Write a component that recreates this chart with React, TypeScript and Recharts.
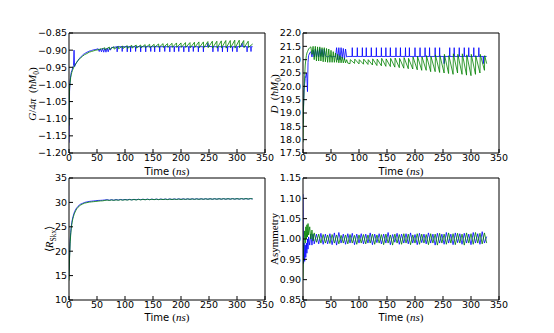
import React from 'react';
import { LineChart, Line, XAxis, YAxis } from 'recharts';

// ---------- Panel 1: G/4pi ----------
const gBlueTime = [
  0, 1, 2, 3, 4, 5, 6, 7, 8, 9, 10,
  12, 14, 16, 18, 20, 22, 24, 26, 28, 30, 32, 34, 36, 38, 40, 42, 44, 46,
  48, 50, 52, 54, 56, 58, 60, 62, 64, 66, 68, 70, 72, 74, 76, 78, 80,
  85.6, 86, 86.4, 94.6, 95, 95.4, 103.6, 104, 104.4, 109.6, 110, 110.4,
  118.6, 119, 119.4, 127.6, 128, 128.4, 136.6, 137, 137.4, 145.6, 146, 146.4,
  152.6, 153, 153.4, 161.6, 162, 162.4, 170.6, 171, 171.4, 179.6, 180, 180.4,
  187.6, 188, 188.4, 195.6, 196, 196.4, 204.6, 205, 205.4, 213.6, 214, 214.4,
  221.6, 222, 222.4, 230.6, 231, 231.4, 239.6, 240, 240.4, 247.6, 248, 248.4,
  256.6, 257, 257.4, 265.6, 266, 266.4, 273.6, 274, 274.4, 282.6, 283, 283.4,
  291.6, 292, 292.4, 299.6, 300, 300.4, 308.6, 309, 309.4, 317.6, 318, 318.4,
  324.6, 325, 325.4, 328,
];
const gBlue = [
  -1.17, -1.02, -0.99, -0.975, -0.965, -0.96, -0.955, -0.95, -0.945, -0.9, -0.948,
  -0.94, -0.935, -0.93, -0.925, -0.922, -0.918, -0.915, -0.912, -0.91, -0.908, -0.906, -0.905, -0.903, -0.902, -0.901, -0.9, -0.899, -0.898,
  -0.898, -0.897, -0.896, -0.904, -0.896, -0.905, -0.895, -0.906, -0.895, -0.906, -0.894, -0.905, -0.893, -0.9, -0.892, -0.892, -0.892,
  -0.89, -0.905, -0.89, -0.89, -0.904, -0.89, -0.89, -0.905, -0.89, -0.89, -0.905, -0.89,
  -0.89, -0.904, -0.89, -0.89, -0.905, -0.89, -0.89, -0.905, -0.89, -0.89, -0.904, -0.89,
  -0.89, -0.905, -0.89, -0.89, -0.905, -0.89, -0.89, -0.904, -0.89, -0.89, -0.905, -0.89,
  -0.89, -0.905, -0.89, -0.89, -0.904, -0.89, -0.89, -0.905, -0.89, -0.89, -0.905, -0.89,
  -0.89, -0.904, -0.89, -0.89, -0.905, -0.89, -0.89, -0.905, -0.89, -0.889, -0.88, -0.889,
  -0.89, -0.905, -0.89, -0.89, -0.904, -0.89, -0.89, -0.905, -0.89, -0.89, -0.905, -0.89,
  -0.89, -0.904, -0.89, -0.89, -0.905, -0.89, -0.889, -0.88, -0.889, -0.89, -0.905, -0.89,
  -0.89, -0.904, -0.89, -0.89,
];
const gGreenTime = [
  0, 1, 2, 3, 4, 5, 6, 7, 8, 9, 10, 12, 14, 16, 18, 20, 24, 28, 32, 36, 40, 44, 48, 52, 56, 60,
  64, 64.5, 72, 72.5, 80, 80.5, 88, 88.5, 96, 96.5, 104, 104.5, 112, 112.5, 120, 120.5,
  128, 128.5, 136, 136.5, 144, 144.5, 152, 152.5, 160, 160.5, 168, 168.5, 176, 176.5,
  184, 184.5, 192, 192.5, 200, 200.5, 208, 208.5, 216, 216.5, 224, 224.5, 232, 232.5,
  240, 240.5, 248, 248.5, 256, 256.5, 264, 264.5, 272, 272.5, 280, 280.5, 288, 288.5,
  296, 296.5, 304, 304.5, 312, 312.5, 320, 320.5, 328,
];
const gGreen = [
  -1.12, -1.01, -0.995, -0.98, -0.972, -0.965, -0.96, -0.956, -0.952, -0.948, -0.945, -0.94, -0.935, -0.93, -0.927, -0.924,
  -0.918, -0.913, -0.91, -0.906, -0.904, -0.902, -0.9, -0.899, -0.897, -0.896,
  -0.893, -0.899, -0.891, -0.898, -0.89, -0.897, -0.889, -0.896, -0.888, -0.895, -0.887, -0.895, -0.886, -0.894, -0.885, -0.894,
  -0.885, -0.893, -0.884, -0.893, -0.883, -0.893, -0.883, -0.892, -0.882, -0.892, -0.881, -0.892, -0.881, -0.892,
  -0.88, -0.892, -0.879, -0.892, -0.879, -0.892, -0.878, -0.892, -0.878, -0.893, -0.877, -0.892, -0.876, -0.893,
  -0.876, -0.893, -0.875, -0.893, -0.874, -0.893, -0.874, -0.894, -0.873, -0.893, -0.872, -0.894, -0.872, -0.893,
  -0.871, -0.894, -0.871, -0.893, -0.872, -0.893, -0.874, -0.892, -0.882,
];

// ---------- Panel 2: D ----------
const dBlueTime = [
  0, 1, 2, 3, 4, 5, 6, 7, 8, 9, 10,
  12, 14, 16, 18, 20, 22, 24, 26, 28, 30, 32, 34, 36, 38, 40, 42, 44, 46,
  48, 50, 52, 54, 56, 58, 60, 62, 64, 66, 68, 70, 72, 74, 76, 78, 80,
  87.6, 88, 88.4, 96.6, 97, 97.4, 105.6, 106, 106.4, 112.6, 113, 113.4,
  121.6, 122, 122.4, 130.6, 131, 131.4, 139.6, 140, 140.4, 147.6, 148, 148.4,
  155.6, 156, 156.4, 165.6, 166, 166.4, 173.6, 174, 174.4, 182.6, 183, 183.4,
  189.6, 190, 190.4, 199.6, 200, 200.4, 208.6, 209, 209.4, 217.6, 218, 218.4,
  225.6, 226, 226.4, 235.6, 236, 236.4, 243.6, 244, 244.4, 251.6, 252, 252.4,
  261.6, 262, 262.4, 269.6, 270, 270.4, 278.6, 279, 279.4, 287.6, 288, 288.4,
  295.6, 296, 296.4, 304.6, 305, 305.4, 313.6, 314, 314.4, 321.6, 322, 322.4,
  328,
];
const dBlue = [
  18.6, 19.3, 19.9, 20.1, 20.3, 20.4, 20.5, 20.3, 19.8, 20.9, 21.15,
  21.25, 21.3, 21.1, 21.35, 21.1, 21.4, 21.1, 21.38, 21.1, 21.42, 21.12, 21.38, 21.1, 21.4, 21.15, 21.12, 21.1, 21.12,
  21.15, 21.12, 21.1, 21.12, 21.12, 21.1, 21.45, 21.0, 21.45, 21.0, 21.45, 21.05, 21.42, 21.0, 21.4, 21.1, 21.12,
  21.12, 21.45, 21.12, 21.12, 21.45, 21.12, 21.12, 21.45, 21.12, 21.12, 21.45, 21.12,
  21.12, 21.45, 21.12, 21.12, 21.45, 21.12, 21.12, 21.45, 21.12, 21.12, 21.45, 21.12,
  21.12, 21.45, 21.12, 21.12, 21.45, 21.12, 21.12, 21.45, 21.12, 21.12, 21.45, 21.12,
  21.12, 21.45, 21.12, 21.12, 21.45, 21.12, 21.12, 21.45, 21.12, 21.12, 21.45, 21.12,
  21.12, 21.45, 21.12, 21.12, 21.45, 21.12, 21.12, 21.45, 21.12, 21.12, 20.85, 21.12,
  21.12, 21.45, 21.12, 21.12, 21.45, 21.12, 21.12, 21.45, 21.12, 21.12, 21.45, 21.12,
  21.12, 21.45, 21.12, 21.12, 21.45, 21.12, 21.12, 21.45, 21.12, 21.12, 20.85, 21.12,
  21.12,
];
const dGreenTime = [
  0, 1, 2, 3, 4, 5, 6, 7, 8, 9, 10,
  12, 14, 16, 18, 20, 22, 24, 26, 28, 30, 32, 34, 36, 38, 40, 42, 44, 46,
  48, 50, 52, 54, 56, 58, 60, 62, 64, 66, 68, 70, 72, 74, 76, 78, 80,
  84, 84.5, 92, 92.5, 100, 100.5, 108, 108.5, 116, 116.5, 124, 124.5,
  132, 132.5, 140, 140.5, 148, 148.5, 156, 156.5, 164, 164.5, 172, 172.5,
  180, 180.5, 188, 188.5, 196, 196.5, 204, 204.5, 212, 212.5, 220, 220.5,
  228, 228.5, 236, 236.5, 244, 244.5, 252, 252.5, 260, 260.5, 268, 268.5,
  276, 276.5, 284, 284.5, 292, 292.5, 300, 300.5, 308, 308.5, 316, 316.5,
  324, 324.5, 328,
];
const dGreen = [
  17.9, 19.2, 19.9, 20.4, 20.8, 21.0, 21.15, 21.25, 21.3, 21.35, 21.4,
  21.45, 21.48, 21.2, 21.5, 21.0, 21.5, 20.95, 21.48, 20.95, 21.48, 20.95, 21.45, 20.92, 21.45, 20.92, 21.42, 20.9,
  21.4, 20.9, 21.35, 20.9, 21.3, 20.9, 21.25, 20.9, 21.2, 20.88, 21.15, 20.88, 21.1, 20.88, 21.05, 20.88, 21.0, 20.87,
  20.85, 21.0, 20.86, 21.02, 20.84, 21.0, 20.83, 21.02, 20.82, 21.0, 20.8, 21.03,
  20.78, 21.02, 20.77, 21.05, 20.75, 21.03, 20.74, 21.05, 20.72, 21.06, 20.7, 21.05,
  20.68, 21.08, 20.66, 21.05, 20.65, 21.1, 20.62, 21.12, 20.6, 21.1, 20.6, 21.15,
  20.55, 21.12, 20.55, 21.18, 20.52, 21.15, 20.5, 21.2, 20.48, 21.15, 20.45, 21.22,
  20.5, 21.2, 20.45, 21.22, 20.42, 21.18, 20.4, 21.2, 20.45, 21.15, 20.5, 21.2,
  20.6, 21.15, 20.85,
];

// ---------- Panels 3 and 4 share one time axis ----------
const time = [
  0, 1, 2, 3, 4, 5, 6, 7, 8, 9, 10, 12, 14, 16, 18, 20,
  24, 28, 32, 36, 40, 44, 48, 52, 56, 60,
  64, 68, 72, 76, 80, 84, 88, 92, 96, 100,
  104, 108, 112, 116, 120, 124, 128, 132, 136, 140,
  144, 148, 152, 156, 160, 164, 168, 172, 176, 180,
  184, 188, 192, 196, 200, 204, 208, 212, 216, 220,
  224, 228, 232, 236, 240, 244, 248, 252, 256, 260,
  264, 268, 272, 276, 280, 284, 288, 292, 296, 300,
  304, 308, 312, 316, 320, 324, 328,
];

// Panel 3: <R_Skx>
const rBlue = [
  15, 19, 22, 23.8, 25, 25.9, 26.5, 27, 27.4, 27.8, 28.1, 28.6, 28.9, 29.2, 29.4, 29.6,
  29.8, 30.0, 30.1, 30.2, 30.25, 30.3, 30.35, 30.4, 30.42, 30.45,
  30.5, 30.55, 30.45, 30.55, 30.45, 30.58, 30.48, 30.6, 30.5, 30.6,
  30.52, 30.62, 30.52, 30.62, 30.54, 30.64, 30.55, 30.65, 30.56, 30.66,
  30.57, 30.66, 30.58, 30.67, 30.58, 30.68, 30.6, 30.68, 30.6, 30.7,
  30.6, 30.7, 30.62, 30.72, 30.62, 30.72, 30.63, 30.72, 30.63, 30.73,
  30.64, 30.74, 30.64, 30.74, 30.65, 30.74, 30.65, 30.75, 30.65, 30.75,
  30.66, 30.76, 30.66, 30.76, 30.66, 30.76, 30.67, 30.77, 30.67, 30.77,
  30.67, 30.77, 30.68, 30.78, 30.68, 30.78, 30.7,
];
const rGreen = [
  14, 18.5, 21.5, 23.3, 24.6, 25.5, 26.2, 26.7, 27.1, 27.5, 27.8, 28.3, 28.7, 29.0, 29.2, 29.4,
  29.65, 29.85, 29.95, 30.05, 30.1, 30.15, 30.2, 30.25, 30.3, 30.32,
  30.4, 30.48, 30.4, 30.5, 30.42, 30.52, 30.44, 30.55, 30.46, 30.56,
  30.48, 30.58, 30.5, 30.6, 30.5, 30.62, 30.52, 30.62, 30.54, 30.64,
  30.55, 30.65, 30.56, 30.66, 30.57, 30.66, 30.58, 30.67, 30.58, 30.68,
  30.6, 30.68, 30.6, 30.7, 30.6, 30.7, 30.62, 30.72, 30.62, 30.72,
  30.63, 30.72, 30.63, 30.73, 30.64, 30.74, 30.64, 30.74, 30.65, 30.75,
  30.65, 30.75, 30.66, 30.76, 30.66, 30.76, 30.66, 30.76, 30.67, 30.77,
  30.67, 30.77, 30.68, 30.78, 30.68, 30.78, 30.72,
];

// Panel 4: Asymmetry
const aBlue = [
  1.11, 0.94, 0.99, 0.945, 0.985, 0.955, 0.99, 0.965, 1.0, 0.975, 1.005, 0.985, 1.012, 0.985, 1.012, 0.988,
  1.012, 0.988, 1.014, 0.987, 1.012, 0.988, 1.013, 0.986, 1.015, 0.985,
  1.016, 0.99, 1.012, 0.987, 1.013, 0.99, 1.014, 0.986, 1.012, 0.99,
  1.013, 0.988, 1.012, 0.99, 1.015, 0.986, 1.012, 0.991, 1.013, 0.988,
  1.012, 0.99, 1.016, 0.986, 1.011, 0.992, 1.014, 0.987, 1.012, 0.99,
  1.013, 0.988, 1.015, 0.99, 1.011, 0.986, 1.014, 0.991, 1.012, 0.988,
  1.015, 0.99, 1.012, 0.985, 1.014, 0.99, 1.012, 0.987, 1.016, 0.99,
  1.012, 0.986, 1.015, 0.991, 1.013, 0.987, 1.014, 0.99, 1.012, 0.986,
  1.016, 0.99, 1.013, 0.987, 1.018, 0.99, 1.006,
];
const aGreen = [
  0.9, 0.97, 1.0, 1.02, 0.99, 1.03, 1.0, 1.035, 1.005, 1.038, 1.01, 1.03, 1.0, 1.022, 0.995, 1.015,
  0.992, 1.012, 0.99, 1.011, 0.99, 1.01, 0.989, 1.011, 0.99, 1.01,
  0.988, 1.009, 0.99, 1.01, 0.988, 1.011, 0.99, 1.009, 0.987, 1.01,
  0.99, 1.011, 0.988, 1.01, 0.99, 1.012, 0.987, 1.01, 0.99, 1.011,
  0.986, 1.012, 0.99, 1.01, 0.985, 1.012, 0.99, 1.011, 0.987, 1.013,
  0.99, 1.012, 0.986, 1.01, 0.99, 1.013, 0.987, 1.012, 0.99, 1.011,
  0.986, 1.013, 0.99, 1.012, 0.985, 1.014, 0.99, 1.012, 0.987, 1.015,
  0.99, 1.013, 0.986, 1.014, 0.99, 1.012, 0.985, 1.015, 0.99, 1.013,
  0.987, 1.016, 0.99, 1.014, 0.988, 1.015, 0.99,
];

const xTicks = [0, 50, 100, 150, 200, 250, 300, 350];
const gTicks = [-1.2, -1.15, -1.1, -1.05, -1.0, -0.95, -0.9, -0.85];
const dTicks = [17.5, 18, 18.5, 19, 19.5, 20, 20.5, 21, 21.5, 22];
const rTicks = [10, 15, 20, 25, 30, 35];
const aTicks = [0.85, 0.9, 0.95, 1.0, 1.05, 1.1, 1.15];

const BLUE = '#0000ff';
const GREEN = '#008000';

const fmt = (d: number) => (v: number) => v.toFixed(d).replace('-', '\u2212');
const tickStyle = { fill: '#000', fontSize: 9.5, fontFamily: 'DejaVu Sans' };
const YW = 70;

type Series = { t: number[]; v: number[]; color: string };
type PanelProps = {
  plotL: number; plotT: number; plotW: number; plotH: number;
  series: Series[]; domain: [number, number]; ticks: number[]; digits: number;
};

function Panel({ plotL, plotT, plotW, plotH, series, domain, ticks, digits }: PanelProps) {
  const W = plotW + YW + 10;
  const H = plotH + 40;
  return (
    <div style={{ position: 'absolute', left: plotL - YW, top: plotT - 10 }}>
      <LineChart width={W} height={H} margin={{ top: 9, right: 9, left: 0, bottom: 0 }}>
        <XAxis dataKey="t" type="number" domain={[0, 350]} ticks={xTicks} interval={0} height={30}
          tickSize={-4} tickMargin={5} tick={tickStyle} stroke="#000" allowDataOverflow />
        <XAxis xAxisId="top" orientation="top" dataKey="t" type="number" domain={[0, 350]} ticks={xTicks}
          interval={0} height={1} tickSize={-4} tick={false} stroke="#000" allowDataOverflow />
        <YAxis type="number" domain={domain} ticks={ticks} interval={0} width={YW} tickSize={-4} tickMargin={6}
          tick={tickStyle} tickFormatter={fmt(digits)} stroke="#000" allowDataOverflow />
        <YAxis yAxisId="right" orientation="right" type="number" domain={domain} ticks={ticks} interval={0}
          width={1} tickSize={-4} tick={false} stroke="#000" allowDataOverflow />
        {series.map((s, k) => (
          <Line key={k} type="linear" data={s.t.map((t, i) => ({ t, v: s.v[i] }))} dataKey="v"
            stroke={s.color} strokeWidth={0.8} dot={false} isAnimationActive={false} />
        ))}
      </LineChart>
    </div>
  );
}

function YTitle({ cx, cy, children }: { cx: number; cy: number; children: React.ReactNode }) {
  return (
    <div style={{
      position: 'absolute', left: cx, top: cy, transform: 'translate(-50%, -50%) rotate(-90deg)',
      whiteSpace: 'nowrap', lineHeight: 1, color: '#000', fontFamily: 'Liberation Serif', fontSize: 11,
    }}>{children}</div>
  );
}

function XTitle({ cx, cy }: { cx: number; cy: number }) {
  return (
    <div style={{
      position: 'absolute', left: cx, top: cy, transform: 'translate(-50%, -50%)',
      whiteSpace: 'nowrap', lineHeight: 1, color: '#000', fontFamily: 'DejaVu Sans', fontSize: 10,
    }}>
      Time <span style={{ fontFamily: 'Liberation Serif', fontSize: 11 }}>(<i>ns</i>)</span>
    </div>
  );
}

const sub = { fontSize: 7.5, verticalAlign: 'sub', lineHeight: 0 } as const;

export default function App() {
  return (
    <div style={{ position: 'absolute', left: 0, top: 0, width: 554, height: 333, background: '#fff', overflow: 'hidden' }}>
      <Panel plotL={69} plotT={33} plotW={196} plotH={120} domain={[-1.2, -0.85]} ticks={gTicks} digits={2}
        series={[{ t: gBlueTime, v: gBlue, color: BLUE }, { t: gGreenTime, v: gGreen, color: GREEN }]} />
      <Panel plotL={303} plotT={33} plotW={196} plotH={120} domain={[17.5, 22]} ticks={dTicks} digits={1}
        series={[{ t: dBlueTime, v: dBlue, color: BLUE }, { t: dGreenTime, v: dGreen, color: GREEN }]} />
      <Panel plotL={69} plotT={178} plotW={196} plotH={122} domain={[10, 35]} ticks={rTicks} digits={0}
        series={[{ t: time, v: rBlue, color: BLUE }, { t: time, v: rGreen, color: GREEN }]} />
      <Panel plotL={303} plotT={178} plotW={196} plotH={122} domain={[0.85, 1.15]} ticks={aTicks} digits={2}
        series={[{ t: time, v: aBlue, color: BLUE }, { t: time, v: aGreen, color: GREEN }]} />

      <YTitle cx={32} cy={94}><i>G</i>/4<i>π</i>&nbsp;&nbsp;(<i>ħM</i><span style={sub}>0</span>)</YTitle>
      <YTitle cx={274} cy={94}><i>D</i>&nbsp;&nbsp;(<i>ħM</i><span style={sub}>0</span>)</YTitle>
      <YTitle cx={49} cy={239}>⟨<i>R</i><span style={sub}>Skx</span>⟩</YTitle>
      <YTitle cx={274} cy={239}>Asymmetry</YTitle>

      <XTitle cx={167} cy={171} />
      <XTitle cx={401} cy={171} />
      <XTitle cx={167} cy={317} />
      <XTitle cx={401} cy={317} />
    </div>
  );
}
